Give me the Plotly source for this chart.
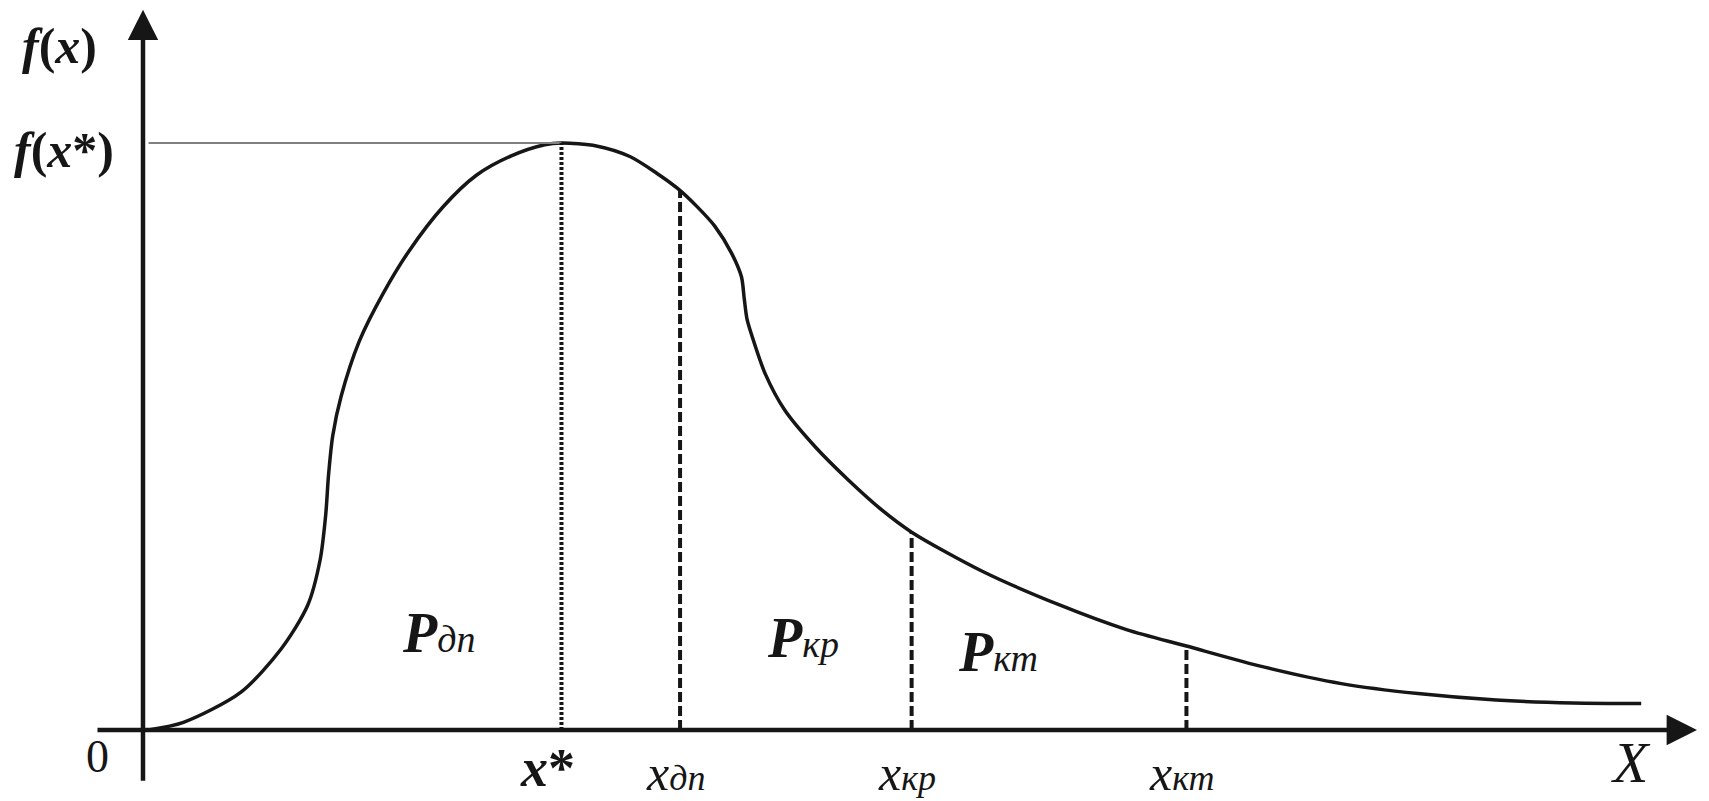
import numpy as np
import plotly.graph_objects as go

# ---- data (x in arbitrary units, f normalised so that f(x*) = 1) ----
curve_x = [0.04, 0.29, 0.70, 0.99, 1.18, 1.27, 1.31, 1.33, 1.36, 1.42, 1.55, 1.72, 1.91,
           2.15, 2.39, 2.64, 2.88, 3.00, 3.25, 3.49, 3.68, 3.83, 3.97, 4.10, 4.22, 4.29,
           4.31, 4.33, 4.37, 4.46, 4.60, 4.82, 5.06, 5.30, 5.51, 6.02, 6.57, 7.05, 7.48,
           8.04, 8.59, 9.14, 9.70, 10.25, 10.74]
curve_f = [0.0, 0.013, 0.064, 0.138, 0.212, 0.290, 0.367, 0.434, 0.501, 0.568, 0.662, 0.743, 0.817,
           0.891, 0.945, 0.978, 0.997, 1.000, 0.995, 0.977, 0.949, 0.923, 0.892, 0.858, 0.812, 0.772,
           0.735, 0.700, 0.668, 0.607, 0.545, 0.482, 0.425, 0.374, 0.337, 0.270, 0.213, 0.171, 0.143,
           0.107, 0.079, 0.062, 0.051, 0.046, 0.045]

x_star = 3.0
bound_x = [3.85, 5.51, 7.48]
bound_subs = ["дп", "кр", "кт"]
area_subs = ["дп", "кр", "кт"]

# ---- layout constants ----
X_RANGE = [-1.025, 11.226]
Y_RANGE = [-0.121, 1.2436]
FONT = "Liberation Serif"
INK = "#161616"

fig = go.Figure()

# main curve
fig.add_trace(go.Scatter(x=curve_x, y=curve_f, mode="lines",
                         line=dict(color=INK, width=3.5, shape="spline", smoothing=0.8),
                         hoverinfo="skip", showlegend=False))

def f_at(xv):
    return float(np.interp(xv, curve_x, curve_f))

# f(x*) horizontal guide
fig.add_trace(go.Scatter(x=[0.04, x_star], y=[1.0, 1.0], mode="lines",
                         line=dict(color="#808080", width=2), hoverinfo="skip", showlegend=False))
# dotted line at x*
fig.add_trace(go.Scatter(x=[x_star, x_star], y=[0, f_at(x_star)], mode="lines",
                         line=dict(color=INK, width=4, dash="3px,2px"),
                         hoverinfo="skip", showlegend=False))
# dashed boundaries
for bx in bound_x:
    fig.add_trace(go.Scatter(x=[bx, bx], y=[0, f_at(bx)], mode="lines",
                             line=dict(color=INK, width=4, dash="10px,4px"),
                             hoverinfo="skip", showlegend=False))

annotations = []
# axes with arrows
annotations.append(dict(x=11.14, y=0, ax=-0.337, ay=0, xref="x", yref="y", axref="x", ayref="y",
                        text="", showarrow=True, arrowhead=2, arrowsize=1.35, arrowwidth=4.5,
                        arrowcolor=INK))
annotations.append(dict(x=0, y=1.227, ax=0, ay=-0.089, xref="x", yref="y", axref="x", ayref="y",
                        text="", showarrow=True, arrowhead=2, arrowsize=1.35, arrowwidth=4.5,
                        arrowcolor=INK))


def lab(x, y, t, size, **kw):
    d = dict(x=x, y=y, xref="x", yref="y", text=t, showarrow=False,
             font=dict(family=FONT, size=size, color=INK))
    d.update(kw)
    annotations.append(d)


def small(t, size):
    return f"<span style='font-size:{size}px'>{t}</span>"


lab(-0.595, 1.165, "<b><i>f</i>(<i>x</i>)</b>", 50)
lab(-0.565, 0.988, "<b><i>f</i>(<i>x</i>*)</b>", 50)
lab(-0.323, -0.046, "0", 46)
lab(2.90, -0.065, "<b><i>x</i>*</b>", 54)
for bx, s in zip(bound_x, bound_subs):
    lab(bx - 0.03, -0.073, "<i>x</i>" + small(f"<i>{s}</i>", 36), 50)
lab(10.67, -0.056, "<i>X</i>", 58)
area_pos = [(2.12, 0.165), (4.73, 0.157), (6.13, 0.133)]
for (ax_, ay_), s in zip(area_pos, area_subs):
    lab(ax_, ay_, "<b><i>P</i></b>" + small(f"<i>{s}</i>", 38), 56)

fig.update_layout(
    width=1709, height=801,
    margin=dict(l=0, r=0, t=0, b=0),
    paper_bgcolor="white", plot_bgcolor="white",
    xaxis=dict(range=X_RANGE, visible=False, fixedrange=True),
    yaxis=dict(range=Y_RANGE, visible=False, fixedrange=True),
    annotations=annotations,
    showlegend=False,
)

fig.write_html("out.html", config={"displayModeBar": False},
               post_script="document.body.style.margin='0px';document.body.style.overflow='hidden';")
